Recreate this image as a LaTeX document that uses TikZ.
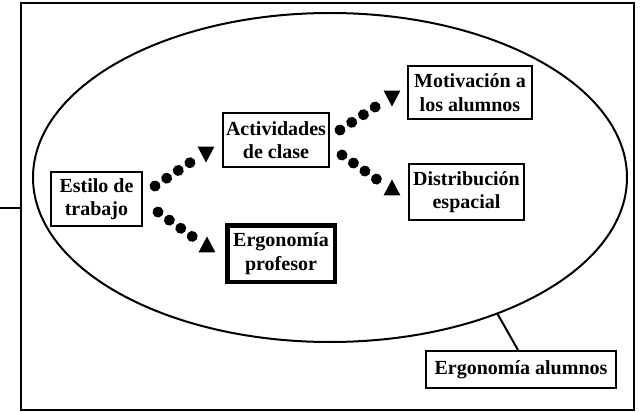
\documentclass[tikz,border=0pt]{standalone}
\usepackage{fontspec}
\setmainfont{Liberation Serif}
\usetikzlibrary{decorations.markings}
\tikzset{
  box/.style={draw=black, line width=2pt, fill=white, inner sep=0pt, align=center,
    font=\bfseries\fontsize{20}{23.5}\selectfont},
  thickbox/.style={box, line width=4.5pt},
  dotmarks/.style={decoration={markings,
      mark=between positions 0 and -12pt step 14pt with {\fill[black] (0,0) circle (5.5pt);}}},
  dotarrowdown/.style={decorate, dotmarks, decoration={markings,
      mark=at position 1 with {\pgftransformresetnontranslations
        \fill[black] (-8.5,-5.5) -- (8.5,-5.5) -- (0,10.5) -- cycle;}}},
  dotarrowup/.style={decorate, dotmarks, decoration={markings,
      mark=at position 1 with {\pgftransformresetnontranslations
        \fill[black] (-8.5,5.5) -- (8.5,5.5) -- (0,-10.5) -- cycle;}}},
}
\begin{document}
\begin{tikzpicture}[x=1pt,y=-1pt]
\useasboundingbox (0,0) rectangle (641,412);
% frame
\draw[line width=2.5pt] (21,3) rectangle (634,410);
\coordinate (lstub) at (0,208);
\coordinate (lframe) at (21,208);
\draw[line width=1.5pt] (lstub) -- (lframe);
% ellipse
\draw[line width=2pt] (330,177.5) ellipse [x radius=297, y radius=164.5];
\coordinate (etouch) at (497,313);
% nodes
\node[box, minimum width=91pt, minimum height=54pt] (estilo) at (96.5,199) {Estilo de\\trabajo};
\node[box, minimum width=106pt, minimum height=54pt] (activ) at (276,140) {Actividades\\de clase};
\node[box, minimum width=124pt, minimum height=53pt] (motiv) at (470,92.5) {Motivación a\\los alumnos};
\node[box, minimum width=115pt, minimum height=56pt] (distr) at (466.5,192) {Distribución\\espacial};
\node[thickbox, minimum width=107.5pt, minimum height=56.5pt] (ergop) at (281,253.5) {Ergonomía\\profesor};
\node[box, minimum width=190pt, minimum height=37pt] (ergoa) at (521,369.5) {Ergonomía alumnos};
% connector to ellipse
\draw[line width=2pt] ([shift={(-3,0)}]ergoa.north) -- (etouch);
% dotted arrows
\path[dotarrowdown] ([shift={(12,-13)}]estilo.east) -- ([shift={(-16,12)}]activ.west);
\path[dotarrowup] ([shift={(15,13)}]estilo.east) -- ([shift={(-18,-6.5)}]ergop.west);
\path[dotarrowdown] ([shift={(10,-10)}]activ.east) -- ([shift={(-15,3.5)}]motiv.west);
\path[dotarrowup] ([shift={(12,15)}]activ.east) -- ([shift={(-16,-2)}]distr.west);
\end{tikzpicture}
\end{document}
